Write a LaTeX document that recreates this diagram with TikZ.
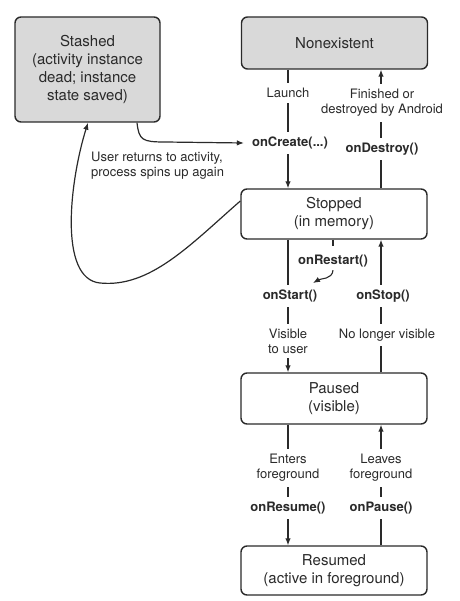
\documentclass[tikz,border=0pt]{standalone}
\usepackage{fontspec}
\setmainfont{TeX Gyre Heros}
\usetikzlibrary{arrows.meta}
\definecolor{boxgray}{HTML}{D9D9D9}
\definecolor{ink}{HTML}{2A2A2A}
\tikzset{
  state/.style={draw=ink, line width=1.4pt, rounded corners=6pt, minimum width=186pt, align=center,
    font=\fontsize{15}{18}\selectfont, text=ink},
  grayed/.style={fill=boxgray},
  lbl/.style={fill=white, inner xsep=1pt, inner ysep=5pt, align=center, font=\fontsize{13}{15}\selectfont, text=ink},
  blbl/.style={lbl, font=\fontsize{13}{15}\selectfont\bfseries},
  conn/.style={draw=ink, line width=1.2pt},
  arr/.style={conn, -{Latex[length=7pt,width=5.5pt]}},
}
\begin{document}
\begin{tikzpicture}[x=1pt,y=-1pt]
\useasboundingbox (0,0) rectangle (459,601);
% states
\node[state, grayed, minimum width=145pt, minimum height=105pt] (stashed) at (87.5,69.5)
  {Stashed\\(activity instance\\dead; instance\\state saved)};
\node[state, grayed, minimum height=52pt] (nonex) at (334.5,43) {Nonexistent};
\node[state, minimum height=50pt] (stopped) at (334,214) {Stopped\\(in memory)};
\node[state, minimum height=51pt] (paused) at (334,398.5) {Paused\\(visible)};
\node[state, minimum height=49pt] (resumed) at (334,570.5) {Resumed\\(active in foreground)};

% main vertical connectors (drawn first, labels cover them)
\coordinate (L1) at (288,69);
\coordinate (R1) at (381,69);
\draw[arr] (nonex.south -| L1) -- (stopped.north -| L1);
\draw[arr] (stopped.north -| R1) -- (nonex.south -| R1);
\draw[arr] (stopped.south -| L1) -- (paused.north -| L1);
\draw[arr] (paused.north -| R1) -- (stopped.south -| R1);
\draw[arr] (paused.south -| L1) -- (resumed.north -| L1);
\draw[arr] (resumed.north -| R1) -- (paused.south -| R1);

% labels
\node[lbl] (launch) at (288,93) {Launch};
\node[blbl] (oncreate) at (290,143) {onCreate(...)};
\node[lbl] (finished) at (382,103) {Finished or\\destroyed by Android};
\node[blbl] (ondestroy) at (382,149) {onDestroy()};
\node[blbl] (onrestart) at (333,261) {onRestart()};
\node[blbl] (onstart) at (290,296) {onStart()};
\node[blbl] (onstop) at (383,296) {onStop()};
\node[lbl] (visible) at (288,341) {Visible\\to user};
\node[lbl] (nolonger) at (387,335) {No longer visible};
\node[lbl] (enters) at (288,468) {Enters\\foreground};
\node[blbl] (onresume) at (288,508) {onResume()};
\node[lbl] (leaves) at (381,468) {Leaves\\foreground};
\node[blbl] (onpause) at (381,508) {onPause()};
\node[lbl, fill=none, align=left, anchor=west] (userreturns) at (90,166)
  {User returns to activity,\\process spins up again};

% onRestart tick and curved arrow
\draw[conn] (stopped.south -| onrestart) -- ++(0,6);
\coordinate (rsend) at (313,283);
\draw[arr, line width=1.1pt] ([yshift=2pt]onrestart.south) to[out=-95,in=30] (rsend);

% Stashed -> onCreate
\draw[arr] (stashed.south -| 137,0) .. controls (139,140) and (142,142) .. (165,142) -- ([xshift=-7pt]oncreate.west);

% Stopped -> Stashed
\draw[arr] ([yshift=13pt]stopped.west) .. controls (190,245) and (150,288) .. (100,283)
  .. controls (58,279) and (70,180) .. (stashed.south -| 88,0);
\end{tikzpicture}
\end{document}
